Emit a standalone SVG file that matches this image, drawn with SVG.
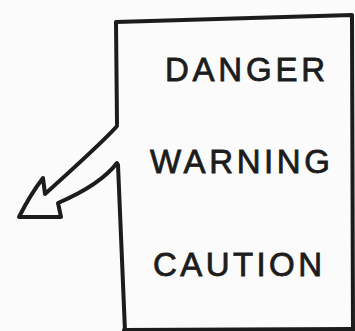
<svg xmlns="http://www.w3.org/2000/svg" width="355" height="331" viewBox="0 0 355 331">
<style>
.ln{fill:none;stroke:#1c1c1c;stroke-width:4;stroke-linecap:round;stroke-linejoin:round}
.lbl{font-family:"Liberation Sans","DejaVu Sans",sans-serif;font-size:33px;fill:#1c1c1c;stroke:#1c1c1c;stroke-width:0.8}
</style>
<rect width="355" height="331" fill="#fbfbfb"/>
<g id="panel">
<path class="ln" d="M117,124 L116,22 L352,15 L353,331"/>
<path class="ln" d="M118,165 L125,331"/>
<path class="ln" d="M124,330 L353,329"/>
</g>
<g id="connectors">
<path class="ln" d="M117,126 Q105,140 45,194 L43,178 Q30,195 19,217 L61,217 L58,203 Q100,185 117,163 L118,166"/>
</g>
<g id="danger"><text class="lbl" x="165" y="81" textLength="160" lengthAdjust="spacing">DANGER</text></g>
<g id="warning"><text class="lbl" x="150" y="173" textLength="180" lengthAdjust="spacing">WARNING</text></g>
<g id="caution"><text class="lbl" x="153" y="276" textLength="169" lengthAdjust="spacing">CAUTION</text></g>
</svg>
